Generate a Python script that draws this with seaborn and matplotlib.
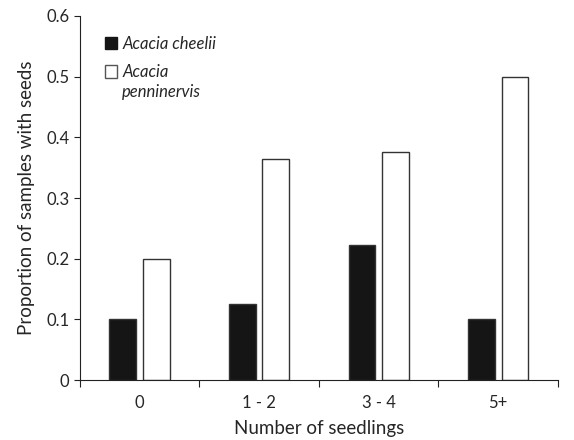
import pandas as pd
import numpy as np
import seaborn as sns
import matplotlib.pyplot as plt
from matplotlib.patches import Patch

categories = ['0', '1 - 2', '3 - 4', '5+']
cheelii = [0.1, 0.125, 0.222, 0.1]
penninervis = [0.2, 0.364, 0.375, 0.5]
species = ['Acacia cheelii', 'Acacia penninervis']
y_ticks = [0, 0.1, 0.2, 0.3, 0.4, 0.5, 0.6]
y_labels = ['0', '0.1', '0.2', '0.3', '0.4', '0.5', '0.6']

df = pd.DataFrame({
    'seedlings': categories * 2,
    'species': [species[0]] * 4 + [species[1]] * 4,
    'proportion': cheelii + penninervis,
})

sns.set_style('ticks')
plt.rcParams['font.family'] = ['Lato', 'DejaVu Sans']

fig = plt.figure(figsize=(5.74, 4.4), dpi=100)
ax = fig.add_axes([0.139, 0.136, 0.833, 0.828])

sns.barplot(data=df, x='seedlings', y='proportion', hue='species',
            palette=['#151515', 'white'], width=0.56, gap=0.2,
            edgecolor='#333333', linewidth=1, ax=ax, legend=False)

ax.set_ylim(0, 0.6)
ax.set_xlim(-0.5, 3.5)
ax.set_yticks(y_ticks)
ax.set_yticklabels(y_labels)
ax.set_xticks(np.arange(-0.5, 4.0, 1.0))
ax.set_xticklabels([])
ax.set_xticks(range(len(categories)), minor=True)
ax.set_xticklabels(categories, minor=True)
ax.tick_params(axis='x', which='minor', length=0, pad=11, labelsize=12)
ax.tick_params(axis='x', which='major', length=5, color='#222222')
ax.tick_params(axis='y', length=4, labelsize=12, color='#222222')
for s in ['left', 'bottom']:
    ax.spines[s].set_color('#222222')
sns.despine(ax=ax)

ax.set_xlabel('Number of seedlings', fontsize=13.5, labelpad=6)
ax.set_ylabel('Proportion of samples with seeds', fontsize=13.5, labelpad=8)

# legend: two pieces so the white square sits beside the first line
leg_kw = dict(loc='upper left', frameon=False, borderpad=0,
              prop={'style': 'italic', 'size': 12}, handlelength=0.75,
              handleheight=0.75, handletextpad=0.3, labelspacing=0.2)
leg1 = ax.legend([Patch(facecolor='#151515', edgecolor='#151515')],
                 ['Acacia cheelii'], bbox_to_anchor=(0.035, 0.967), **leg_kw)
ax.add_artist(leg1)
ax.legend([Patch(facecolor='white', edgecolor='#555555'),
           Patch(facecolor='none', edgecolor='none')],
          ['Acacia', 'penninervis'], bbox_to_anchor=(0.035, 0.89), **leg_kw)

fig.savefig('out.png', dpi=100)
